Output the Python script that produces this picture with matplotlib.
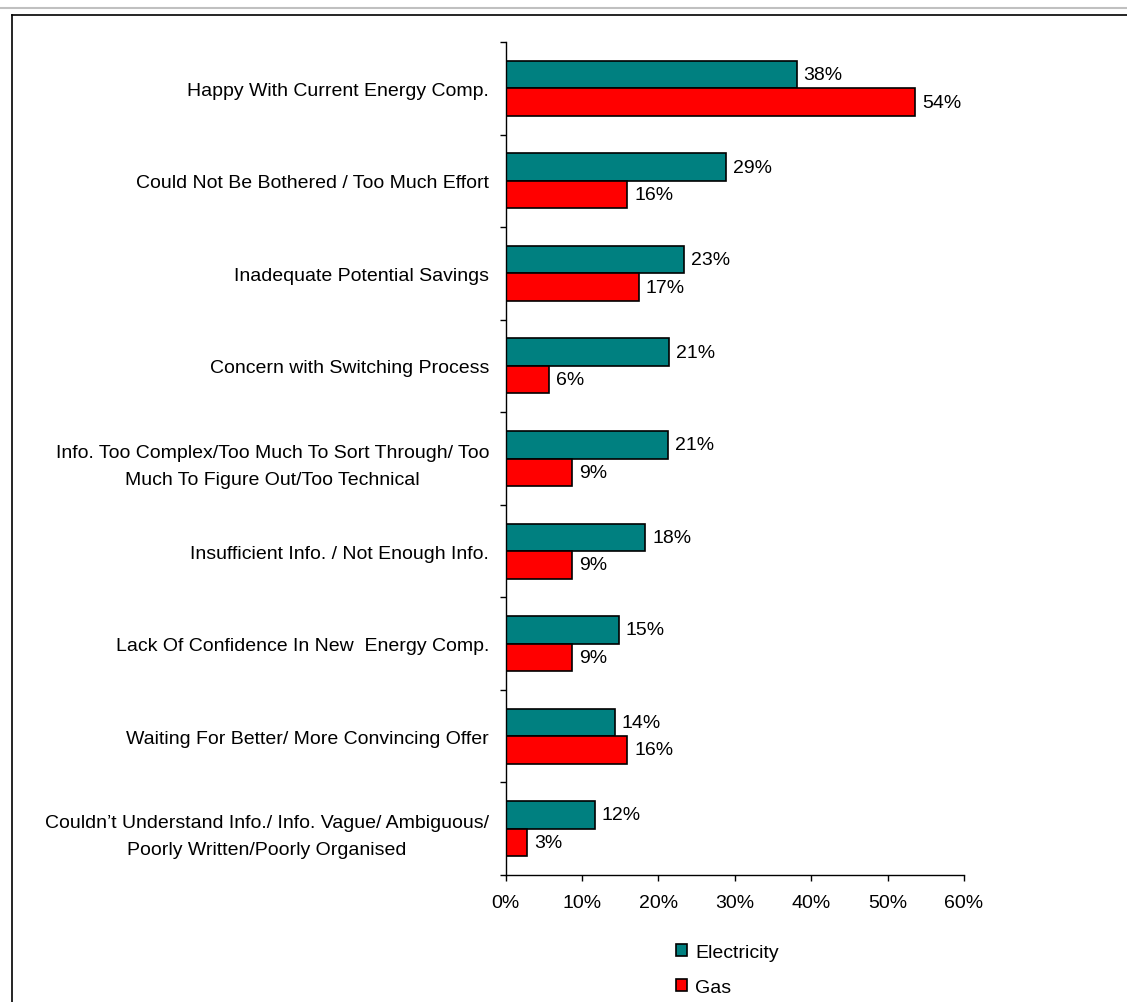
import matplotlib
matplotlib.use("Agg")
import matplotlib.pyplot as plt
from matplotlib.patches import Patch
from matplotlib.lines import Line2D
import numpy as np

plt.rcParams['font.family'] = ['Liberation Sans', 'DejaVu Sans']

# reasons for not switching, top to bottom
reasons = [
    "Happy With Current Energy Comp.",
    "Could Not Be Bothered / Too Much Effort",
    "Inadequate Potential Savings",
    "Concern with Switching Process",
    "Info. Too Complex/Too Much To Sort Through/ Too\nMuch To Figure Out/Too Technical",
    "Insufficient Info. / Not Enough Info.",
    "Lack Of Confidence In New  Energy Comp.",
    "Waiting For Better/ More Convincing Offer",
    "Couldn\u2019t Understand Info./ Info. Vague/ Ambiguous/\nPoorly Written/Poorly Organised",
]
electricity = [38.1, 28.8, 23.3, 21.4, 21.2, 18.3, 14.8, 14.3, 11.7]
gas = [53.6, 15.9, 17.4, 5.7, 8.7, 8.7, 8.7, 15.9, 2.8]
x_ticks = [0, 10, 20, 30, 40, 50, 60]

teal = "#008080"
red = "#FF0000"
fs = 14

fig = plt.figure(figsize=(11.27, 10.03), dpi=100)
ax = fig.add_axes([0.4487, 0.1266, 0.8554 - 0.4487, 0.9571 - 0.1266])

y = np.arange(len(reasons))
h = 0.297
ax.barh(y - h / 2, electricity, height=h, color=teal, edgecolor="black", linewidth=1.2)
ax.barh(y + h / 2, gas, height=h, color=red, edgecolor="black", linewidth=1.2)

# value labels next to each bar
for i in range(len(reasons)):
    ax.text(electricity[i] + 0.9, y[i] - h / 2, f"{electricity[i]:.0f}%", va="center", ha="left", fontsize=fs)
    ax.text(gas[i] + 0.9, y[i] + h / 2, f"{gas[i]:.0f}%", va="center", ha="left", fontsize=fs)

ax.set_xlim(0, 60)
ax.set_ylim(len(reasons) - 0.5, -0.5)
ax.set_xticks(x_ticks)
ax.set_xticklabels([f"{t}%" for t in x_ticks], fontsize=fs)
ax.set_yticks(y)
ax.set_yticklabels(reasons, fontsize=fs, multialignment="center")
for t in ax.get_yticklabels():
    t.set_linespacing(1.8)
ax.set_yticks(np.arange(len(reasons) + 1) - 0.5, minor=True)

ax.tick_params(axis="y", which="major", length=0, pad=12)
ax.tick_params(axis="y", which="minor", length=4, width=1, direction="out")
ax.tick_params(axis="x", length=4, width=1, direction="out", pad=10)

for s in ["top", "right"]:
    ax.spines[s].set_visible(False)
for s in ["left", "bottom"]:
    ax.spines[s].set_color("black")
    ax.spines[s].set_linewidth(1.0)

handles = [Patch(facecolor=teal, edgecolor="black", linewidth=1.2, label="Electricity"),
           Patch(facecolor=red, edgecolor="black", linewidth=1.2, label="Gas")]
fig.legend(handles=handles, loc="center left", bbox_to_anchor=(0.584, 0.032), frameon=False,
           fontsize=fs, handlelength=0.6, handleheight=0.6, handletextpad=0.4, labelspacing=0.9)

# outer frame lines
fig.add_artist(Line2D([0, 1], [1 - 8.5 / 1003] * 2, color="#c0c0c0", linewidth=1.5, transform=fig.transFigure))
fig.add_artist(Line2D([12 / 1127, 1], [1 - 16 / 1003] * 2, color="black", linewidth=1.2, transform=fig.transFigure))
fig.add_artist(Line2D([12 / 1127] * 2, [0, 1 - 16 / 1003], color="black", linewidth=1.2, transform=fig.transFigure))

fig.savefig("out.png", dpi=100)
